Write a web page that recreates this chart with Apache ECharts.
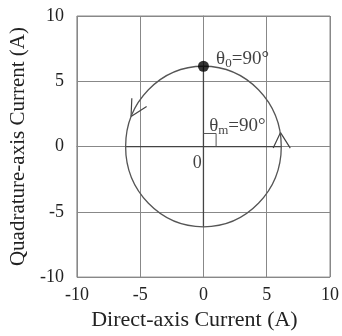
<!DOCTYPE html>
<html><head><meta charset="utf-8">
<script src="https://cdn.jsdelivr.net/npm/echarts@6/dist/echarts.min.js"></script>
<style>html,body{margin:0;padding:0;background:#fff}#c{width:342px;height:336px}</style>
</head><body><div id="c"></div>
<script>
// ---- data ----
const axisTicks = [-10, -5, 0, 5, 10];
const circleCenter = [0, 0];
const circleRadius = 6.15;
const startPoint = [0, 6.15];
const verticalDiameter = [[0, -6.15], [0, 6.15]];
const horizontalDiameter = [[-6.15, 0], [6.15, 0]];
const rightAngleMark = [[0, 1], [1, 1], [1, 0]];
const leftArrow = [[-5.66, 3.70], [-5.72, 2.30], [-4.49, 3.06]];
const rightArrow = [[5.51, -0.12], [6.09, 1.07], [6.86, -0.12]];
const labelTheta0 = [1.0, 6.7];
const labelThetaM = [0.45, 1.55];
const labelOrigin = [-0.85, -1.3];

const FONT = 'Liberation Serif';
const lineSeries = (d, color, w) => ({type:'line', data:d, symbol:'none', silent:true, lineStyle:{color:color, width:w}, z:3});
const textSeries = (pt, fmt, rich) => ({
  type:'scatter', data:[pt], symbolSize:0, silent:true, z:5,
  label:{show:true, position:'inside', align:'left', verticalAlign:'middle', formatter:fmt,
    fontFamily:FONT, fontSize:18, color:'#111', rich:rich}
});
const richTheta = {
  t:{fontFamily:FONT, fontSize:19, color:'#111'},
  s:{fontFamily:FONT, fontSize:13, color:'#111', verticalAlign:'bottom', padding:[8,0,0,0]}
};

const chart = echarts.init(document.getElementById('c'));
chart.setOption({
  animation:false,
  grid:{left:73, right:7, top:16, bottom:58, show:true, borderColor:'#888', borderWidth:1},
  xAxis:{type:'value', min:axisTicks[0], max:axisTicks[axisTicks.length-1], interval:5,
    name:'Direct-axis Current (A)', nameLocation:'middle', nameGap:26,
    nameTextStyle:{fontFamily:FONT, fontSize:22, color:'#222', padding:[0,18,0,0]},
    axisLine:{show:true, lineStyle:{color:'#888'}}, axisTick:{show:false},
    axisLabel:{fontFamily:FONT, fontSize:18, color:'#222', margin:9},
    splitLine:{show:true, lineStyle:{color:'#888', width:1}}},
  yAxis:{type:'value', min:axisTicks[0], max:axisTicks[axisTicks.length-1], interval:5,
    name:'Quadrature-axis Current (A)', nameLocation:'middle', nameGap:42,
    nameTextStyle:{fontFamily:FONT, fontSize:21, color:'#222'},
    axisLine:{show:true, lineStyle:{color:'#888'}}, axisTick:{show:false},
    axisLabel:{fontFamily:FONT, fontSize:18, color:'#222', margin:13},
    splitLine:{show:true, lineStyle:{color:'#888', width:1}}},
  series:[
    lineSeries(verticalDiameter, '#444', 1.3),
    lineSeries(horizontalDiameter, '#444', 1.3),
    lineSeries(rightAngleMark, '#555', 1),
    lineSeries(leftArrow, '#444', 1.2),
    lineSeries(rightArrow, '#444', 1.2),
    {type:'custom', coordinateSystem:'cartesian2d', silent:true, z:4,
      data:[[circleCenter[0], circleCenter[1], circleRadius]],
      renderItem:function(params, api){
        const c = api.coord([api.value(0), api.value(1)]);
        const s = api.size([api.value(2), api.value(2)]);
        return {type:'ellipse', shape:{cx:c[0], cy:c[1], rx:s[0], ry:s[1]},
          style:{fill:null, stroke:'#555', lineWidth:1.3}};
      }},
    {type:'scatter', data:[startPoint], symbol:'circle', symbolSize:11, itemStyle:{color:'#000'}, z:6, silent:true},
    textSeries(labelTheta0, '{t|θ}{s|0}{t|=90°}', richTheta),
    textSeries(labelThetaM, '{t|θ}{s|m}{t|=90°}', richTheta),
    textSeries(labelOrigin, '0', {})
  ]
});
</script></body></html>
